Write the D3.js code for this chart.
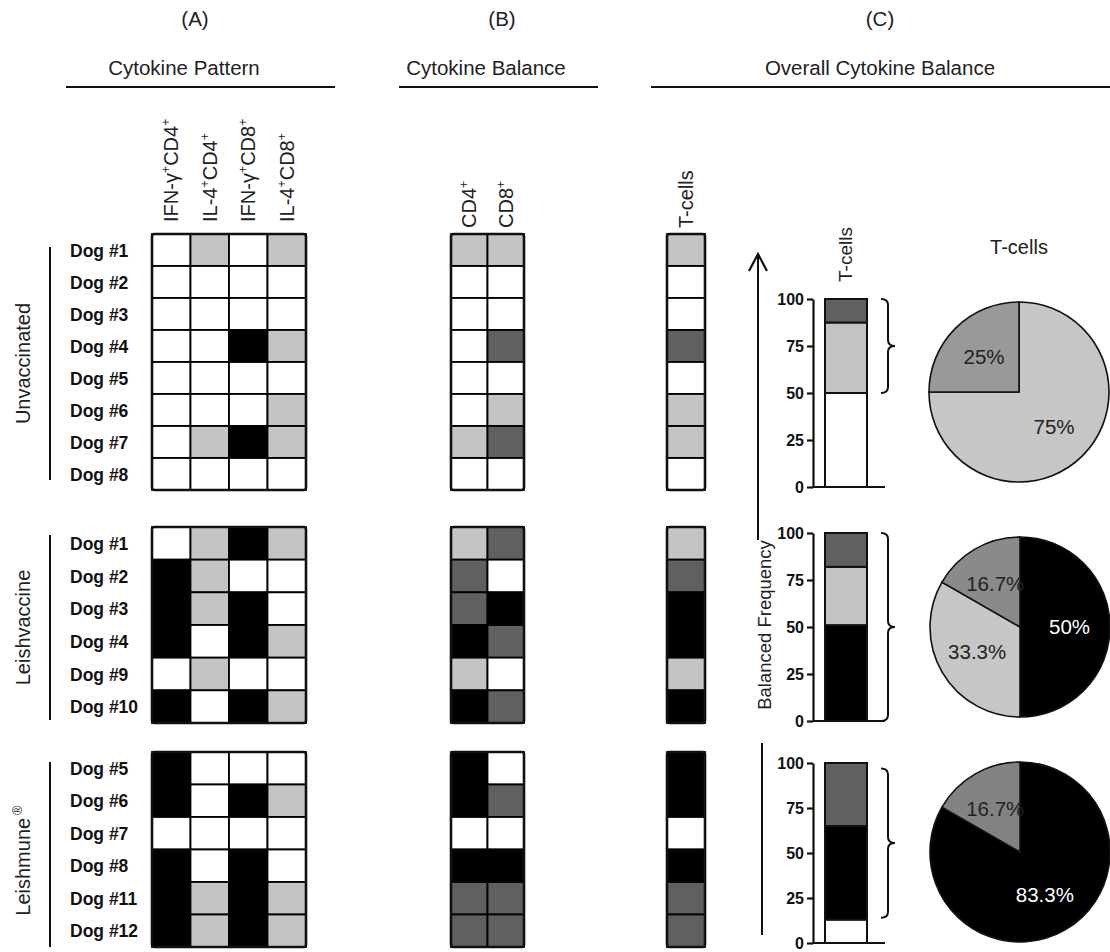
<!DOCTYPE html>
<html>
<head>
<meta charset="utf-8">
<script src="https://cdn.jsdelivr.net/npm/d3@7/dist/d3.min.js"></script>
<style>
  html, body { margin: 0; padding: 0; background: #fff; }
  svg { display: block; font-family: Arial, "Liberation Sans", Helvetica, sans-serif; }
</style>
</head>
<body>
<svg id="fig" width="1110" height="952"></svg>
<script>
// ---- data ----------------------------------------------------------------
// cell codes: 0 = none, 1 = light, 2 = dark, 3 = black
const groupNames = ["Unvaccinated", "Leishvaccine", "Leishmune"];
const dogLabels = [
  ["Dog #1", "Dog #2", "Dog #3", "Dog #4", "Dog #5", "Dog #6", "Dog #7", "Dog #8"],
  ["Dog #1", "Dog #2", "Dog #3", "Dog #4", "Dog #9", "Dog #10"],
  ["Dog #5", "Dog #6", "Dog #7", "Dog #8", "Dog #11", "Dog #12"]
];
const patternColumns = ["IFN-γ+CD4+", "IL-4+CD4+", "IFN-γ+CD8+", "IL-4+CD8+"];
const balanceColumns = ["CD4+", "CD8+"];
const overallColumn = ["T-cells"];

const patternUnvaccinated = [
  [0, 1, 0, 1], [0, 0, 0, 0], [0, 0, 0, 0], [0, 0, 3, 1],
  [0, 0, 0, 0], [0, 0, 0, 1], [0, 1, 3, 1], [0, 0, 0, 0]
];
const patternLeishvaccine = [
  [0, 1, 3, 1], [3, 1, 0, 0], [3, 1, 3, 0], [3, 0, 3, 1], [0, 1, 0, 0], [3, 0, 3, 1]
];
const patternLeishmune = [
  [3, 0, 0, 0], [3, 0, 3, 1], [0, 0, 0, 0], [3, 0, 3, 0], [3, 1, 3, 1], [3, 1, 3, 1]
];

const balanceUnvaccinated = [[1, 1], [0, 0], [0, 0], [0, 2], [0, 0], [0, 1], [1, 2], [0, 0]];
const balanceLeishvaccine = [[1, 2], [2, 0], [2, 3], [3, 2], [1, 0], [3, 2]];
const balanceLeishmune = [[3, 0], [3, 2], [0, 0], [3, 3], [2, 2], [2, 2]];

const overallUnvaccinated = [1, 0, 0, 2, 0, 1, 1, 0];
const overallLeishvaccine = [1, 2, 3, 3, 1, 3];
const overallLeishmune = [3, 3, 0, 3, 2, 2];

// stacked frequency bars (bottom to top)
const stackCodes = [[0, 1, 2], [3, 1, 2], [0, 3, 2]];
const stackValues = [[50, 37.5, 12.5], [51, 31, 18], [13, 52, 35]];
// brace extent on the frequency axis
const braceRanges = [[50, 100], [0, 100], [14, 97]];
const freqTicks = [0, 25, 50, 75, 100];

// pies (clockwise from 12 o'clock)
const pieLabels = [["75%", "25%"], ["50%", "33.3%", "16.7%"], ["83.3%", "16.7%"]];
const pieValues = [[75, 25], [50, 33.3, 16.7], [83.3, 16.7]];
const pieColors = [["#c6c6c6", "#999999"], ["#000000", "#c6c6c6", "#8a8a8a"], ["#000000", "#828282"]];

// ---- drawing -------------------------------------------------------------
const svg = d3.select("#fig");
const fill = d3.scaleOrdinal().domain([0, 1, 2, 3]).range(["#ffffff", "#c4c4c4", "#606060", "#000000"]);

const patterns = [patternUnvaccinated, patternLeishvaccine, patternLeishmune];
const balances = [balanceUnvaccinated, balanceLeishvaccine, balanceLeishmune];
const overalls = [overallUnvaccinated, overallLeishvaccine, overallLeishmune];

const groupExtents = [[234, 490], [527, 723], [752, 947]];
const groupLines = [[247, 480], [535, 720], [762, 947]];

// header titles and rules
const headers = [
  { tag: "(A)", title: "Cytokine Pattern", tx: 195, cx: 184, x0: 66, x1: 335 },
  { tag: "(B)", title: "Cytokine Balance", tx: 502, cx: 486, x0: 399, x1: 598 },
  { tag: "(C)", title: "Overall Cytokine Balance", tx: 880, cx: 880, x0: 651, x1: 1110 }
];
const head = svg.append("g");
headers.forEach(h => {
  head.append("text").attr("x", h.tx).attr("y", 26)
    .attr("text-anchor", "middle").attr("font-size", 20.5).attr("fill", "#222").text(h.tag);
  head.append("text").attr("x", h.cx).attr("y", 75)
    .attr("text-anchor", "middle").attr("font-size", 20.5).attr("fill", "#222").text(h.title);
  head.append("line").attr("x1", h.x0).attr("x2", h.x1).attr("y1", 87).attr("y2", 87)
    .attr("stroke", "#111").attr("stroke-width", 2);
});

// rotated label with "+" drawn as superscripts
function supLabel(sel, str, size) {
  const parts = str.split(/(\+)/).filter(s => s.length);
  let raised = false;
  parts.forEach(p => {
    if (p === "+") {
      sel.append("tspan").attr("font-size", size * 0.62).attr("dy", -size * 0.42).text("+");
      raised = true;
    } else {
      sel.append("tspan").attr("font-size", size).attr("dy", raised ? size * 0.42 : 0).text(p);
      raised = false;
    }
  });
}

function columnLabels(cols, x, bottom, size) {
  cols.forEach(c => {
    const t = svg.append("text")
      .attr("transform", `translate(${x(c) + x.bandwidth() / 2 + size * 0.36},${bottom}) rotate(-90)`)
      .attr("fill", "#222");
    supLabel(t, c, size);
  });
}

const xPattern = d3.scaleBand().domain(patternColumns).range([152, 306]);
const xBalance = d3.scaleBand().domain(balanceColumns).range([451, 524]);
const xOverall = d3.scaleBand().domain(overallColumn).range([667, 705]);

columnLabels(patternColumns, xPattern, 222, 20);
columnLabels(balanceColumns, xBalance, 228, 20);
columnLabels(overallColumn, xOverall, 228, 20);

function grid(g, rows, x, y, cols) {
  rows.forEach((r, ri) => {
    r.forEach((code, ci) => {
      g.append("rect")
        .attr("x", x(cols[ci])).attr("y", y(ri))
        .attr("width", x.bandwidth()).attr("height", y.bandwidth())
        .attr("fill", fill(code)).attr("stroke", "#000").attr("stroke-width", 1.8);
    });
  });
  const [x0, x1] = x.range();
  const [y0, y1] = y.range();
  g.append("rect").attr("x", x0).attr("y", y0).attr("width", x1 - x0).attr("height", y1 - y0)
    .attr("rx", 2.5).attr("fill", "none").attr("stroke", "#111").attr("stroke-width", 2.6);
}

groupNames.forEach((name, gi) => {
  const g = svg.append("g");
  const n = dogLabels[gi].length;
  const y = d3.scaleBand().domain(d3.range(n)).range(groupExtents[gi]);

  grid(g, patterns[gi], xPattern, y, patternColumns);
  grid(g, balances[gi], xBalance, y, balanceColumns);
  grid(g, overalls[gi].map(v => [v]), xOverall, y, overallColumn);

  // dog labels
  dogLabels[gi].forEach((d, i) => {
    g.append("text").attr("x", 70).attr("y", y(i) + y.bandwidth() / 2 + 6.5)
      .attr("font-size", 17.5).attr("font-weight", "bold").attr("fill", "#111").text(d);
  });

  // group label and rule
  const [l0, l1] = groupLines[gi];
  g.append("line").attr("x1", 50).attr("x2", 50).attr("y1", l0).attr("y2", l1)
    .attr("stroke", "#111").attr("stroke-width", 2);
  const gl = g.append("text")
    .attr("transform", `translate(30,${(l0 + l1) / 2 + (gi === 2 ? 6 : 0)}) rotate(-90)`)
    .attr("text-anchor", "middle").attr("font-size", 20).attr("fill", "#222");
  gl.append("tspan").text(name);
  if (gi === 2) {
    gl.append("tspan").attr("font-size", 13).attr("dy", -8).attr("dx", 3).text("®");
  }
});

// ---- stacked frequency bars ----
const barRanges = [[487, 299], [721, 533], [943, 763]];
const xBar = d3.scaleBand().domain(overallColumn).range([825, 867]);
const axisX = 813;

barRanges.forEach((rng, gi) => {
  const g = svg.append("g");
  const y = d3.scaleLinear().domain([0, 100]).range(rng);
  const stacked = d3.cumsum(stackValues[gi]);
  stackValues[gi].forEach((v, i) => {
    const top = stacked[i];
    const bottom = top - v;
    g.append("rect").attr("x", xBar("T-cells")).attr("width", xBar.bandwidth())
      .attr("y", y(top)).attr("height", y(bottom) - y(top))
      .attr("fill", fill(stackCodes[gi][i])).attr("stroke", "#111").attr("stroke-width", 2);
  });

  const ax = g.append("g").attr("transform", `translate(${axisX},0)`)
    .call(d3.axisLeft(y).tickValues(freqTicks).tickSize(6).tickSizeOuter(0).tickPadding(3));
  ax.select(".domain").attr("stroke", "#111").attr("stroke-width", 2.2);
  ax.selectAll(".tick line").attr("stroke", "#111").attr("stroke-width", 2.2);
  ax.selectAll(".tick text").attr("font-size", 16).attr("font-weight", "bold")
    .attr("font-family", "Arial, 'Liberation Sans', sans-serif").attr("fill", "#111");
  g.append("line").attr("x1", axisX).attr("x2", 885).attr("y1", y(0)).attr("y2", y(0))
    .attr("stroke", "#111").attr("stroke-width", 2.2);

  // curly brace marking the balanced share
  const [b0, b1] = braceRanges[gi];
  const yt = y(b1), yb = y(b0), ym = (yt + yb) / 2;
  const bx = 881, w = 14, r = 6;
  const p = d3.path();
  p.moveTo(bx, yt);
  p.quadraticCurveTo(bx + w / 2, yt, bx + w / 2, yt + r);
  p.lineTo(bx + w / 2, ym - r);
  p.quadraticCurveTo(bx + w / 2, ym, bx + w, ym);
  p.quadraticCurveTo(bx + w / 2, ym, bx + w / 2, ym + r);
  p.lineTo(bx + w / 2, yb - r);
  p.quadraticCurveTo(bx + w / 2, yb, bx, yb);
  g.append("path").attr("d", p.toString()).attr("fill", "none")
    .attr("stroke", "#111").attr("stroke-width", 2);
});

svg.append("text").attr("transform", "translate(852,282) rotate(-90)")
  .attr("font-size", 19).attr("fill", "#222").text("T-cells");

// frequency arrow and axis title
svg.append("line").attr("x1", 758).attr("x2", 758).attr("y1", 540).attr("y2", 254)
  .attr("stroke", "#111").attr("stroke-width", 2);
svg.append("path").attr("d", "M749,271 L758,254 L767,271").attr("fill", "none")
  .attr("stroke", "#111").attr("stroke-width", 2.2);
svg.append("text").attr("transform", "translate(771,625) rotate(-90)")
  .attr("text-anchor", "middle").attr("font-size", 18.5).attr("fill", "#222").text("Balanced Frequency");
svg.append("line").attr("x1", 762).attr("x2", 762).attr("y1", 743).attr("y2", 935)
  .attr("stroke", "#111").attr("stroke-width", 2);

// ---- pies ----
const pieCenters = [[1019, 392], [1020, 627], [1020, 852]];
const radius = 90;
const pie = d3.pie().sort(null).value(d => d);
const arc = d3.arc().innerRadius(0).outerRadius(radius);
const labelArc = d3.arc().innerRadius(radius * 0.55).outerRadius(radius * 0.55);

svg.append("text").attr("x", 1019).attr("y", 254).attr("text-anchor", "middle")
  .attr("font-size", 20).attr("fill", "#222").text("T-cells");

pieCenters.forEach(([cx, cy], gi) => {
  const g = svg.append("g").attr("transform", `translate(${cx},${cy})`);
  const arcs = pie(pieValues[gi]);
  g.selectAll("path").data(arcs).join("path")
    .attr("d", arc).attr("fill", (d, i) => pieColors[gi][i])
    .attr("stroke", "#111").attr("stroke-width", 1.6);
  g.selectAll("text").data(arcs).join("text")
    .attr("transform", d => `translate(${labelArc.centroid(d)})`)
    .attr("text-anchor", "middle").attr("dy", "0.35em").attr("font-size", 20.5)
    .attr("fill", (d, i) => pieColors[gi][i] === "#000000" ? "#fff" : "#222")
    .text((d, i) => pieLabels[gi][i]);
});
</script>
</body>
</html>
